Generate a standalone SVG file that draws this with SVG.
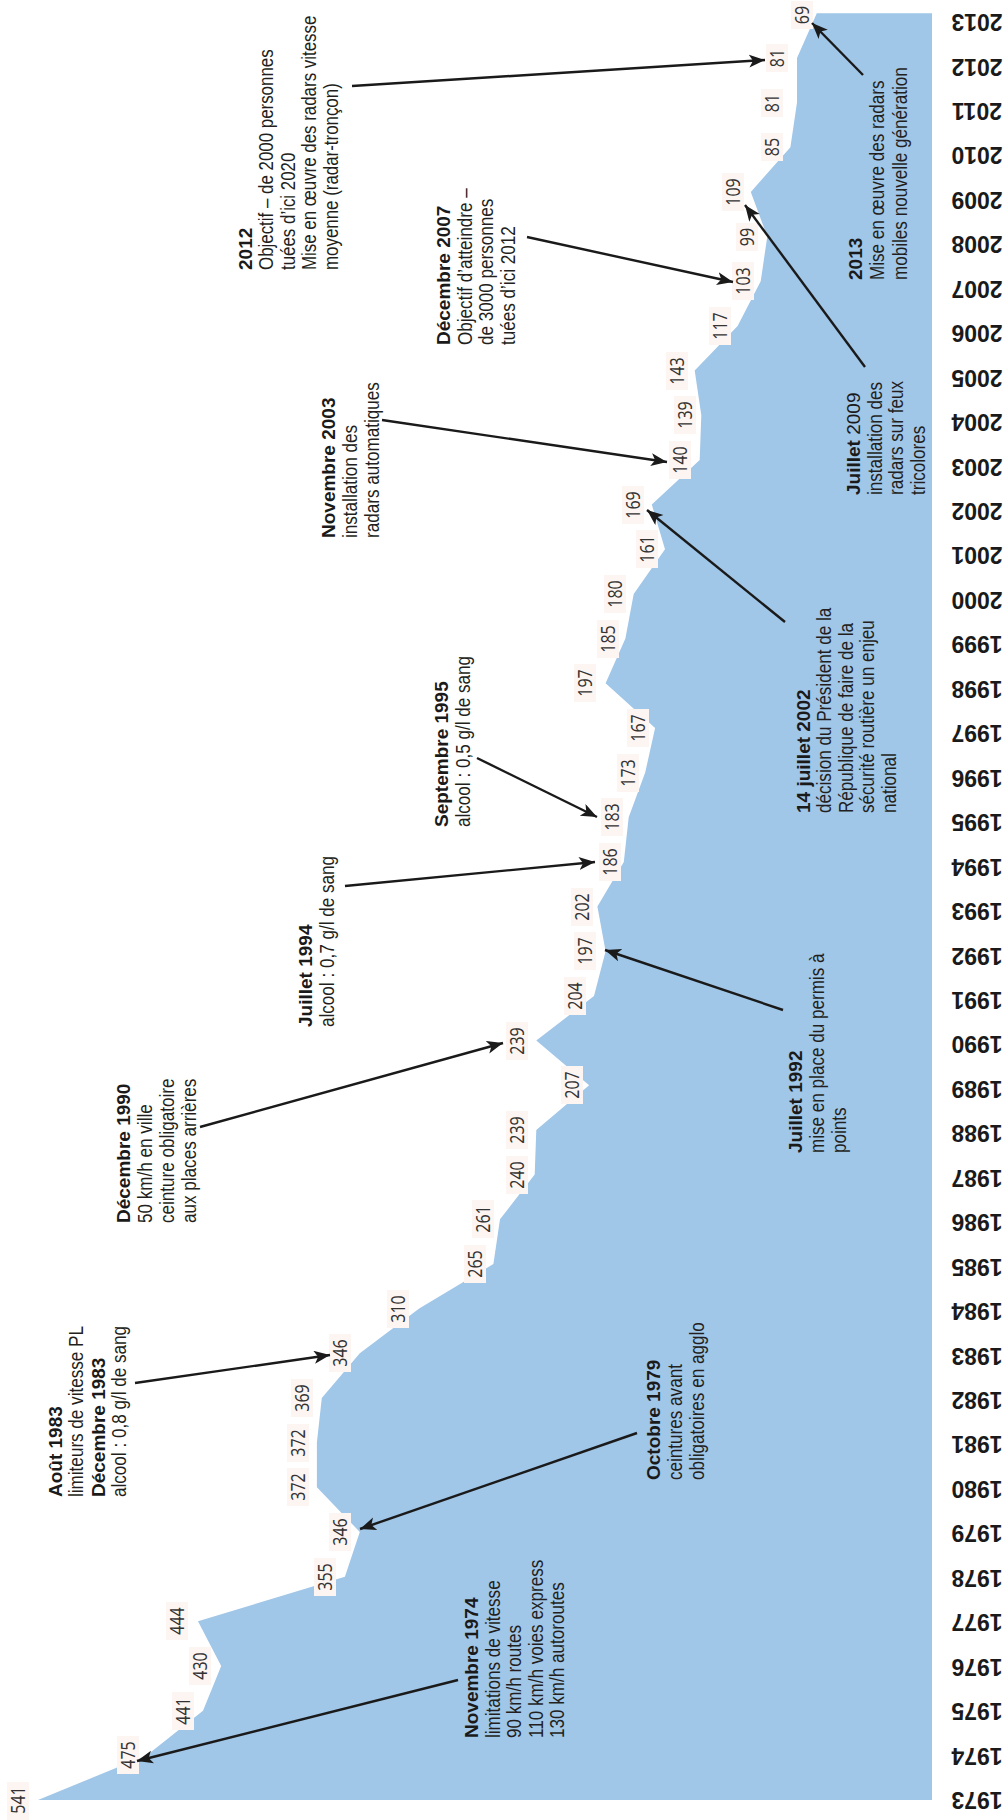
<svg xmlns="http://www.w3.org/2000/svg" width="1006" height="1820" viewBox="0 0 1006 1820">
<style>
.h{font-family:"Liberation Sans",Arial,sans-serif;font-weight:bold;font-size:19px;fill:#1a1a1a}
.t{font-family:"Liberation Sans",Arial,sans-serif;font-size:20px;fill:#231f20}
.n{font-family:"Liberation Sans",Arial,sans-serif;font-weight:normal}
.v{font-family:"Open Sans","Liberation Sans",sans-serif;font-size:20px;fill:#333;text-anchor:middle}
.yr{font-family:"Liberation Sans",Arial,sans-serif;font-weight:bold;font-size:23px;fill:#1a1a1a;text-anchor:middle}
.lb{fill:#fdf5f2}
.ar{fill:none;stroke:#1a1a1a;stroke-width:2.4;marker-end:url(#ah)}
</style>
<defs>
<marker id="ah" markerUnits="userSpaceOnUse" markerWidth="17" markerHeight="14" refX="16" refY="6.5" orient="auto">
<path d="M0,0 L16,6.5 L0,13 L4,6.5 Z" fill="#1a1a1a"/>
</marker>
</defs>
<rect width="1006" height="1820" fill="#ffffff"/>

<g id="chart">
<polygon fill="#a0c6e8" points="38,1800 146.9,1755.3 203,1710.7 221.2,1666 198,1621.3 344.9,1576.7 359.8,1532 316.9,1487.3 316.9,1442.6 321.8,1398 359.8,1353.3 419.2,1308.6 493.4,1264 500,1219.3 534.7,1174.6 536.3,1130 589.1,1085.3 536.3,1040.6 594,996 605.6,951.3 597.4,906.6 623.8,862 628.7,817.3 645.2,772.6 655.1,728 605.6,683.3 625.4,638.6 633.7,594 665,549.2 651.8,504.6 699.7,460 701.3,415.2 694.7,370.6 737.6,326 760.7,281.2 767.3,236.6 750.8,192 790.4,147.2 797,102.6 797,58 816.8,13.2 932,13.2 932,1800"/>
</g>

<g id="values">
<rect class="lb" x="7" y="1782" width="22" height="38"/><text class="v" transform="translate(18,1800) rotate(-90) scale(0.8,1)" y="7">541</text>
<rect class="lb" x="117" y="1736" width="22" height="38"/><text class="v" transform="translate(128,1755) rotate(-90) scale(0.8,1)" y="7">475</text>
<rect class="lb" x="172" y="1692" width="22" height="38"/><text class="v" transform="translate(183,1711) rotate(-90) scale(0.8,1)" y="7">441</text>
<rect class="lb" x="189" y="1647" width="22" height="38"/><text class="v" transform="translate(200,1666) rotate(-90) scale(0.8,1)" y="7">430</text>
<rect class="lb" x="166" y="1602" width="22" height="38"/><text class="v" transform="translate(177,1621) rotate(-90) scale(0.8,1)" y="7">444</text>
<rect class="lb" x="314" y="1558" width="22" height="38"/><text class="v" transform="translate(325,1577) rotate(-90) scale(0.8,1)" y="7">355</text>
<rect class="lb" x="329" y="1513" width="22" height="38"/><text class="v" transform="translate(340,1532) rotate(-90) scale(0.8,1)" y="7">346</text>
<rect class="lb" x="287" y="1468" width="22" height="38"/><text class="v" transform="translate(298,1487) rotate(-90) scale(0.8,1)" y="7">372</text>
<rect class="lb" x="287" y="1424" width="22" height="38"/><text class="v" transform="translate(298,1443) rotate(-90) scale(0.8,1)" y="7">372</text>
<rect class="lb" x="291" y="1379" width="22" height="38"/><text class="v" transform="translate(302,1398) rotate(-90) scale(0.8,1)" y="7">369</text>
<rect class="lb" x="329" y="1334" width="22" height="38"/><text class="v" transform="translate(340,1353) rotate(-90) scale(0.8,1)" y="7">346</text>
<rect class="lb" x="387" y="1290" width="22" height="38"/><text class="v" transform="translate(398,1309) rotate(-90) scale(0.8,1)" y="7">310</text>
<rect class="lb" x="464" y="1245" width="22" height="38"/><text class="v" transform="translate(475,1264) rotate(-90) scale(0.8,1)" y="7">265</text>
<rect class="lb" x="472" y="1200" width="22" height="38"/><text class="v" transform="translate(483,1219) rotate(-90) scale(0.8,1)" y="7">261</text>
<rect class="lb" x="506" y="1156" width="22" height="38"/><text class="v" transform="translate(517,1175) rotate(-90) scale(0.8,1)" y="7">240</text>
<rect class="lb" x="506" y="1111" width="22" height="38"/><text class="v" transform="translate(517,1130) rotate(-90) scale(0.8,1)" y="7">239</text>
<rect class="lb" x="561" y="1066" width="22" height="38"/><text class="v" transform="translate(572,1085) rotate(-90) scale(0.8,1)" y="7">207</text>
<rect class="lb" x="506" y="1022" width="22" height="38"/><text class="v" transform="translate(517,1041) rotate(-90) scale(0.8,1)" y="7">239</text>
<rect class="lb" x="564" y="977" width="22" height="38"/><text class="v" transform="translate(575,996) rotate(-90) scale(0.8,1)" y="7">204</text>
<rect class="lb" x="574" y="932" width="22" height="38"/><text class="v" transform="translate(585,951) rotate(-90) scale(0.8,1)" y="7">197</text>
<rect class="lb" x="571" y="888" width="22" height="38"/><text class="v" transform="translate(582,907) rotate(-90) scale(0.8,1)" y="7">202</text>
<rect class="lb" x="599" y="843" width="22" height="38"/><text class="v" transform="translate(610,862) rotate(-90) scale(0.8,1)" y="7">186</text>
<rect class="lb" x="601" y="798" width="22" height="38"/><text class="v" transform="translate(612,817) rotate(-90) scale(0.8,1)" y="7">183</text>
<rect class="lb" x="617" y="754" width="22" height="38"/><text class="v" transform="translate(628,773) rotate(-90) scale(0.8,1)" y="7">173</text>
<rect class="lb" x="627" y="709" width="22" height="38"/><text class="v" transform="translate(638,728) rotate(-90) scale(0.8,1)" y="7">167</text>
<rect class="lb" x="574" y="664" width="22" height="38"/><text class="v" transform="translate(585,683) rotate(-90) scale(0.8,1)" y="7">197</text>
<rect class="lb" x="597" y="620" width="22" height="38"/><text class="v" transform="translate(608,639) rotate(-90) scale(0.8,1)" y="7">185</text>
<rect class="lb" x="604" y="575" width="22" height="38"/><text class="v" transform="translate(615,594) rotate(-90) scale(0.8,1)" y="7">180</text>
<rect class="lb" x="636" y="530" width="22" height="38"/><text class="v" transform="translate(647,549) rotate(-90) scale(0.8,1)" y="7">161</text>
<rect class="lb" x="622" y="486" width="22" height="38"/><text class="v" transform="translate(633,505) rotate(-90) scale(0.8,1)" y="7">169</text>
<rect class="lb" x="669" y="441" width="22" height="38"/><text class="v" transform="translate(680,460) rotate(-90) scale(0.8,1)" y="7">140</text>
<rect class="lb" x="674" y="396" width="22" height="38"/><text class="v" transform="translate(685,415) rotate(-90) scale(0.8,1)" y="7">139</text>
<rect class="lb" x="666" y="352" width="22" height="38"/><text class="v" transform="translate(677,371) rotate(-90) scale(0.8,1)" y="7">143</text>
<rect class="lb" x="709" y="307" width="22" height="38"/><text class="v" transform="translate(720,326) rotate(-90) scale(0.8,1)" y="7">117</text>
<rect class="lb" x="732" y="262" width="22" height="38"/><text class="v" transform="translate(743,281) rotate(-90) scale(0.8,1)" y="7">103</text>
<rect class="lb" x="736" y="223" width="22" height="28"/><text class="v" transform="translate(747,237) rotate(-90) scale(0.8,1)" y="7">99</text>
<rect class="lb" x="722" y="173" width="22" height="38"/><text class="v" transform="translate(733,192) rotate(-90) scale(0.8,1)" y="7">109</text>
<rect class="lb" x="761" y="133" width="22" height="28"/><text class="v" transform="translate(772,147) rotate(-90) scale(0.8,1)" y="7">85</text>
<rect class="lb" x="761" y="89" width="22" height="28"/><text class="v" transform="translate(772,103) rotate(-90) scale(0.8,1)" y="7">81</text>
<rect class="lb" x="766" y="44" width="22" height="28"/><text class="v" transform="translate(777,58) rotate(-90) scale(0.8,1)" y="7">81</text>
<rect class="lb" x="791" y="1" width="22" height="28"/><text class="v" transform="translate(802,15) rotate(-90) scale(0.8,1)" y="7">69</text>
</g>

<g id="years">
<text class="yr" transform="translate(977,1800) rotate(180)" y="8">1973</text>
<text class="yr" transform="translate(977,1755.5) rotate(180)" y="8">1974</text>
<text class="yr" transform="translate(977,1711.1) rotate(180)" y="8">1975</text>
<text class="yr" transform="translate(977,1666.6) rotate(180)" y="8">1976</text>
<text class="yr" transform="translate(977,1622.2) rotate(180)" y="8">1977</text>
<text class="yr" transform="translate(977,1577.7) rotate(180)" y="8">1978</text>
<text class="yr" transform="translate(977,1533.3) rotate(180)" y="8">1979</text>
<text class="yr" transform="translate(977,1488.8) rotate(180)" y="8">1980</text>
<text class="yr" transform="translate(977,1444.4) rotate(180)" y="8">1981</text>
<text class="yr" transform="translate(977,1399.9) rotate(180)" y="8">1982</text>
<text class="yr" transform="translate(977,1355.5) rotate(180)" y="8">1983</text>
<text class="yr" transform="translate(977,1311) rotate(180)" y="8">1984</text>
<text class="yr" transform="translate(977,1266.6) rotate(180)" y="8">1985</text>
<text class="yr" transform="translate(977,1222.2) rotate(180)" y="8">1986</text>
<text class="yr" transform="translate(977,1177.7) rotate(180)" y="8">1987</text>
<text class="yr" transform="translate(977,1133.3) rotate(180)" y="8">1988</text>
<text class="yr" transform="translate(977,1088.8) rotate(180)" y="8">1989</text>
<text class="yr" transform="translate(977,1044.4) rotate(180)" y="8">1990</text>
<text class="yr" transform="translate(977,999.9) rotate(180)" y="8">1991</text>
<text class="yr" transform="translate(977,955.5) rotate(180)" y="8">1992</text>
<text class="yr" transform="translate(977,911) rotate(180)" y="8">1993</text>
<text class="yr" transform="translate(977,866.6) rotate(180)" y="8">1994</text>
<text class="yr" transform="translate(977,822.1) rotate(180)" y="8">1995</text>
<text class="yr" transform="translate(977,777.7) rotate(180)" y="8">1996</text>
<text class="yr" transform="translate(977,733.2) rotate(180)" y="8">1997</text>
<text class="yr" transform="translate(977,688.8) rotate(180)" y="8">1998</text>
<text class="yr" transform="translate(977,644.3) rotate(180)" y="8">1999</text>
<text class="yr" transform="translate(977,599.9) rotate(180)" y="8">2000</text>
<text class="yr" transform="translate(977,555.4) rotate(180)" y="8">2001</text>
<text class="yr" transform="translate(977,511) rotate(180)" y="8">2002</text>
<text class="yr" transform="translate(977,466.5) rotate(180)" y="8">2003</text>
<text class="yr" transform="translate(977,422.1) rotate(180)" y="8">2004</text>
<text class="yr" transform="translate(977,377.6) rotate(180)" y="8">2005</text>
<text class="yr" transform="translate(977,333.2) rotate(180)" y="8">2006</text>
<text class="yr" transform="translate(977,288.7) rotate(180)" y="8">2007</text>
<text class="yr" transform="translate(977,244.3) rotate(180)" y="8">2008</text>
<text class="yr" transform="translate(977,199.8) rotate(180)" y="8">2009</text>
<text class="yr" transform="translate(977,155.4) rotate(180)" y="8">2010</text>
<text class="yr" transform="translate(977,110.9) rotate(180)" y="8">2011</text>
<text class="yr" transform="translate(977,66.5) rotate(180)" y="8">2012</text>
<text class="yr" transform="translate(977,22) rotate(180)" y="8">2013</text>
</g>

<g id="connectors">
<line class="ar" x1="458" y1="1680" x2="137" y2="1761"/>
<line class="ar" x1="637" y1="1433" x2="360" y2="1529"/>
<line class="ar" x1="135" y1="1383" x2="330" y2="1355"/>
<line class="ar" x1="200" y1="1127" x2="503" y2="1043"/>
<line class="ar" x1="345" y1="886" x2="595" y2="862"/>
<line class="ar" x1="477" y1="758" x2="597" y2="817"/>
<line class="ar" x1="783" y1="1010" x2="605" y2="950"/>
<line class="ar" x1="785" y1="622" x2="647" y2="510"/>
<line class="ar" x1="382" y1="420" x2="667" y2="462"/>
<line class="ar" x1="865" y1="367" x2="745" y2="205"/>
<line class="ar" x1="527" y1="237" x2="733" y2="282"/>
<line class="ar" x1="352" y1="86" x2="765" y2="60"/>
<line class="ar" x1="863" y1="75" x2="812" y2="23"/>
</g>

<g id="ann-1974" transform="translate(478,1738) rotate(-90)">
<text class="h">Novembre 1974</text>
<text class="t" transform="scale(0.855,1)"><tspan x="0" y="22">limitations de vitesse</tspan><tspan x="0" y="43.5">90 km/h routes</tspan><tspan x="0" y="65">110 km/h voies express</tspan><tspan x="0" y="86.5">130 km/h autoroutes</tspan></text>
</g>
<g id="ann-1979" transform="translate(660,1480) rotate(-90)">
<text class="h">Octobre 1979</text>
<text class="t" transform="scale(0.855,1)"><tspan x="0" y="22">ceintures avant</tspan><tspan x="0" y="44">obligatoires en agglo</tspan></text>
</g>
<g id="ann-1983" transform="translate(62,1497) rotate(-90)">
<text class="h">Août 1983</text>
<text class="t" transform="scale(0.855,1)"><tspan x="0" y="21.5">limiteurs de vitesse PL</tspan></text>
<text class="h" y="43">Décembre 1983</text>
<text class="t" transform="scale(0.855,1)"><tspan x="0" y="64.5">alcool : 0,8 g/l de sang</tspan></text>
</g>
<g id="ann-1990" transform="translate(130,1223) rotate(-90)">
<text class="h">Décembre 1990</text>
<text class="t" transform="scale(0.855,1)"><tspan x="0" y="22">50 km/h en ville</tspan><tspan x="0" y="44">ceinture obligatoire</tspan><tspan x="0" y="66">aux places arrières</tspan></text>
</g>
<g id="ann-1992" transform="translate(802,1153) rotate(-90)">
<text class="h">Juillet 1992</text>
<text class="t" transform="scale(0.855,1)"><tspan x="0" y="22">mise en place du permis à</tspan><tspan x="0" y="44">points</tspan></text>
</g>
<g id="ann-1994" transform="translate(312,1027) rotate(-90)">
<text class="h">Juillet 1994</text>
<text class="t" transform="scale(0.855,1)"><tspan x="0" y="22">alcool : 0,7 g/l de sang</tspan></text>
</g>
<g id="ann-1995" transform="translate(448,827) rotate(-90)">
<text class="h">Septembre 1995</text>
<text class="t" transform="scale(0.855,1)"><tspan x="0" y="22">alcool : 0,5 g/l de sang</tspan></text>
</g>
<g id="ann-2002" transform="translate(810,813) rotate(-90)">
<text class="h">14 juillet 2002</text>
<text class="t" transform="scale(0.855,1)"><tspan x="0" y="21.5">décision du Président de la</tspan><tspan x="0" y="43">République de faire de la</tspan><tspan x="0" y="64.5">sécurité routière un enjeu</tspan><tspan x="0" y="86">national</tspan></text>
</g>
<g id="ann-2003" transform="translate(335,538) rotate(-90)">
<text class="h">Novembre 2003</text>
<text class="t" transform="scale(0.855,1)"><tspan x="0" y="22">installation des</tspan><tspan x="0" y="44">radars automatiques</tspan></text>
</g>
<g id="ann-2007" transform="translate(450,345) rotate(-90)">
<text class="h">Décembre 2007</text>
<text class="t" transform="scale(0.855,1)"><tspan x="0" y="22">Objectif d’atteindre –</tspan><tspan x="0" y="43.5">de 3000 personnes</tspan><tspan x="0" y="65">tuées d’ici 2012</tspan></text>
</g>
<g id="ann-2009" transform="translate(860,495) rotate(-90)">
<text class="h">Juillet <tspan class="n">2009</tspan></text>
<text class="t" transform="scale(0.855,1)"><tspan x="0" y="22">installation des</tspan><tspan x="0" y="43.5">radars sur feux</tspan><tspan x="0" y="65">tricolores</tspan></text>
</g>
<g id="ann-2012" transform="translate(252,270) rotate(-90)">
<text class="h">2012</text>
<text class="t" transform="scale(0.845,1)"><tspan x="0" y="21.5">Objectif – de 2000 personnes</tspan><tspan x="0" y="43">tuées d’ici 2020</tspan><tspan x="0" y="64.5">Mise en œuvre des radars vitesse</tspan><tspan x="0" y="86">moyenne (radar-tronçon)</tspan></text>
</g>
<g id="ann-2013" transform="translate(862,280) rotate(-90)">
<text class="h">2013</text>
<text class="t" transform="scale(0.855,1)"><tspan x="0" y="22.5">Mise en œuvre des radars</tspan><tspan x="0" y="45">mobiles nouvelle génération</tspan></text>
</g>
</svg>
